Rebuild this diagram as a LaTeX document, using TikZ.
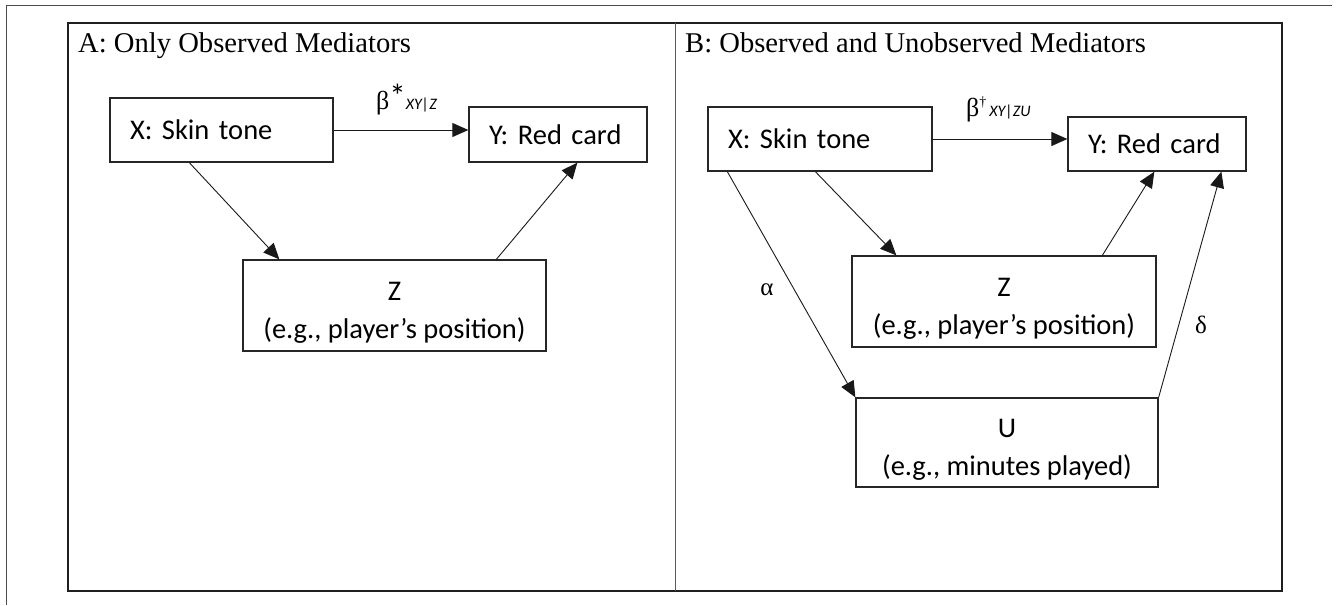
\documentclass[tikz,border=0pt]{standalone}
\usepackage{fontspec}
\setmainfont{Liberation Serif}
\newfontfamily\boxfont{Carlito}
\usetikzlibrary{arrows.meta,calc}
\newcommand{\topstrut}{\rule{0pt}{33pt}}
\begin{document}
\begin{tikzpicture}[x=1pt,y=-1pt,
  outerline/.style={draw=black!70, line width=1pt},
  frame/.style={draw=black!88, line width=2pt},
  divider/.style={draw=black!65, line width=1pt},
  box/.style={draw=black!85, line width=1.3pt, font=\boxfont\fontsize{28.5}{38}\selectfont, inner sep=0pt, align=center},
  lbox/.style={box, align=left, inner xsep=20pt, inner ysep=0pt},
  conn/.style={draw=black!90, line width=0.9pt, -{Triangle[length=16pt,width=14pt]}},
  title/.style={font=\fontsize{28.6}{32}\selectfont, anchor=base west, inner sep=0pt},
  coef/.style={font=\fontsize{26}{28}\selectfont, anchor=base west, inner sep=0pt},
  greek/.style={font=\fontsize{25}{28}\selectfont, anchor=base, inner sep=0pt}]
\useasboundingbox (0,0) rectangle (1338,605);
\fill[white] (0,0) rectangle (1338,605);
% outer frame fragments
\draw[outerline] (6,605) -- (6,5) -- (1332,5);
% panel frame
\draw[frame] (68,23) rectangle (1282,591);
\draw[divider] (675,23) -- (675,591);
% titles
\node[title] (tA) at (78,52) {A: Only Observed Mediators};
\node[title] (tB) at (685,52) {B: Observed and Unobserved Mediators};
% Panel A
\node[lbox, text width=183pt, minimum height=64pt] (XA) at (221.5,130) {X: Skin tone};
\node[lbox, text width=138pt, minimum height=55pt] (YA) at (558,134.5) {Y: Red card};
\node[box, minimum width=303pt, minimum height=91pt] (ZA) at (394.5,305.5) {\topstrut Z\\(e.g., player’s position)};
\draw[conn] (XA.east) -- (XA.east -| YA.west);
\draw[conn] ([xshift=80pt]XA.south west) -- ([xshift=37pt]ZA.north west);
\draw[conn] ([xshift=254pt]ZA.north west) -- ([xshift=109pt]YA.south west);
\node[coef] (bA) at (376,109) {β\raisebox{2pt}{\boxfont\fontsize{33}{33}\selectfont *}{\boxfont\itshape\fontsize{16}{16}\selectfont XY|Z}};
% Panel B
\node[lbox, text width=184pt, minimum height=64pt] (XB) at (820,139) {X: Skin tone};
\node[lbox, text width=138pt, minimum height=54pt] (YB) at (1157,144) {Y: Red card};
\node[box, minimum width=304pt, minimum height=91pt] (ZB) at (1004,301.5) {\topstrut Z\\(e.g., player’s position)};
\node[box, minimum width=302pt, minimum height=89pt] (UB) at (1007,442.5) {\topstrut U\\(e.g., minutes played)};
\draw[conn] (XB.east) -- (XB.east -| YB.west);
\draw[conn] ([xshift=108pt]XB.south west) -- ([xshift=45pt]ZB.north west);
\draw[conn] ([xshift=251pt]ZB.north west) -- ([xshift=87pt]YB.south west);
\draw[conn] ([xshift=20pt]XB.south west) -- (UB.north west);
\draw[conn] (UB.north east) -- ([xshift=154pt]YB.south west);
\node[coef] (bB) at (966,116) {β\makebox[10pt][l]{\raisebox{10pt}{\fontsize{14}{14}\selectfont †}}{\boxfont\itshape\fontsize{16}{16}\selectfont XY|ZU}};
\node[greek] (alpha) at (767,295) {α};
\node[greek] (delta) at (1201,333) {δ};
\end{tikzpicture}
\end{document}
